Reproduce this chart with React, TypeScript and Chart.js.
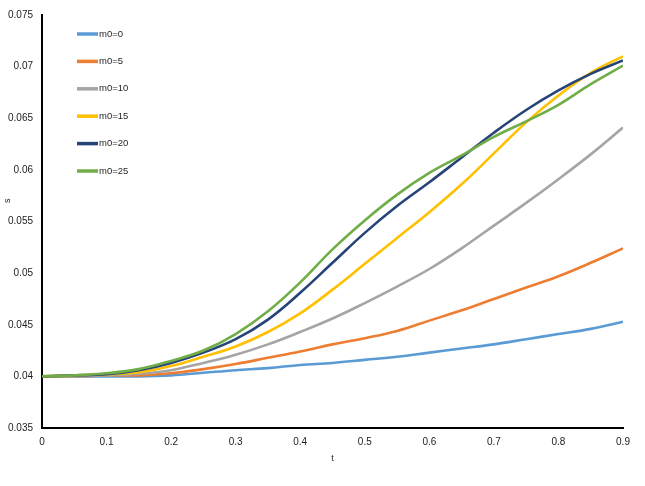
import { useEffect, useRef } from "react"
import { Chart, registerables } from "chart.js"

Chart.register(...registerables)

// t values (x axis)
const tValues = [0, 0.05, 0.1, 0.15, 0.2, 0.25, 0.3, 0.35, 0.4, 0.45, 0.5, 0.55, 0.6, 0.65, 0.7, 0.75, 0.8, 0.85, 0.9]

// s values per m0
const m0_0 = [0.04, 0.04, 0.04, 0.04, 0.0401, 0.04035, 0.0406, 0.0408, 0.0411, 0.0413, 0.0416, 0.0419, 0.0423, 0.0427, 0.0431, 0.0436, 0.0441, 0.0446, 0.0453]
const m0_5 = [0.04, 0.04, 0.0401, 0.0401, 0.0403, 0.0407, 0.0412, 0.0418, 0.0424, 0.0431, 0.0437, 0.0444, 0.0454, 0.0464, 0.0475, 0.0486, 0.0497, 0.051, 0.0524]
const m0_10 = [0.04, 0.04, 0.0401, 0.04025, 0.0406, 0.0413, 0.0421, 0.0431, 0.0443, 0.0456, 0.0471, 0.0487, 0.0504, 0.0524, 0.0546, 0.0568, 0.0591, 0.0615, 0.0641]
const m0_15 = [0.04, 0.0401, 0.0402, 0.0404, 0.041, 0.0419, 0.0429, 0.0443, 0.0461, 0.0484, 0.0509, 0.0534, 0.0559, 0.0586, 0.0616, 0.0646, 0.0672, 0.0694, 0.071]
const m0_20 = [0.04, 0.0401, 0.0402, 0.0406, 0.0413, 0.0423, 0.0436, 0.0455, 0.0481, 0.051, 0.0539, 0.0565, 0.0588, 0.0612, 0.0636, 0.0658, 0.0677, 0.0693, 0.0706]
const m0_25 = [0.04, 0.0401, 0.0403, 0.0407, 0.0415, 0.0425, 0.0441, 0.0463, 0.0491, 0.0523, 0.0551, 0.0576, 0.0597, 0.0614, 0.0632, 0.0647, 0.0663, 0.0683, 0.0701]

const seriesLabels = ["m0=0", "m0=5", "m0=10", "m0=15", "m0=20", "m0=25"]
const seriesValues = [m0_0, m0_5, m0_10, m0_15, m0_20, m0_25]
const seriesColors = ["#5B9BD5", "#ED7D31", "#A5A5A5", "#FFC000", "#264478", "#70AD47"]

const yTitle = "s"

const FONT = "'Liberation Sans', Arial, sans-serif"

// legend drawn inside the plot area, one entry per row, plus the y title
const innerLegend = {
  id: "innerLegend",
  afterDraw(chart: Chart) {
    const { ctx, chartArea } = chart
    ctx.save()
    ctx.font = `9.5px ${FONT}`
    ctx.textBaseline = "middle"
    chart.data.datasets.forEach((ds: any, i: number) => {
      const y = chartArea.top + 19 + i * 27.4
      const x0 = chartArea.left + 35
      ctx.strokeStyle = ds.borderColor
      ctx.lineWidth = 3.5
      ctx.beginPath()
      ctx.moveTo(x0, y)
      ctx.lineTo(x0 + 21, y)
      ctx.stroke()
      ctx.fillStyle = "#262626"
      ctx.fillText(ds.label, x0 + 22, y)
    })
    // y axis title, rotated, a bit above the middle as in the source
    ctx.translate(8, chartArea.top + (chartArea.bottom - chartArea.top) * 0.45)
    ctx.rotate(-Math.PI / 2)
    ctx.textAlign = "center"
    ctx.font = `9px ${FONT}`
    ctx.fillStyle = "#222"
    ctx.fillText(yTitle, 0, 0)
    ctx.restore()
  },
}

function fmt(v: number) {
  return String(parseFloat(v.toFixed(3)))
}

export default function App() {
  const canvasRef = useRef<HTMLCanvasElement>(null)
  const chartRef = useRef<Chart | null>(null)

  useEffect(() => {
    if (!canvasRef.current) return
    if (chartRef.current) chartRef.current.destroy()

    const datasets = seriesValues.map((vals, i) => ({
      label: seriesLabels[i],
      data: vals.map((v, j) => ({ x: tValues[j], y: v })),
      borderColor: seriesColors[i],
      backgroundColor: seriesColors[i],
      borderWidth: 2.6,
      pointRadius: 0,
      fill: false,
      tension: 0.4,
      order: seriesValues.length - i,
    }))

    chartRef.current = new Chart(canvasRef.current, {
      type: "line",
      data: { datasets },
      options: {
        responsive: true,
        maintainAspectRatio: false,
        animation: false,
        layout: { padding: { top: 7, right: 22, bottom: 0, left: 0 } },
        plugins: {
          legend: { display: false },
          tooltip: { enabled: false },
        },
        scales: {
          x: {
            type: "linear",
            min: 0,
            max: 0.9,
            grid: { display: false, drawTicks: false },
            border: { display: true, color: "#000", width: 2 },
            ticks: {
              stepSize: 0.1,
              padding: 8,
              color: "#222",
              font: { family: FONT, size: 10 },
              maxRotation: 0,
              callback: (v: any) => fmt(Number(v)),
            },
            title: {
              display: true,
              text: "t",
              color: "#222",
              font: { family: FONT, size: 9 },
              padding: { top: 0, bottom: 22 },
            },
            afterFit: (scale: any) => {
              scale.height = 58
            },
          },
          y: {
            min: 0.035,
            max: 0.075,
            grid: { display: false, drawTicks: false },
            border: { display: true, color: "#000", width: 2 },
            ticks: {
              stepSize: 0.005,
              padding: 9,
              color: "#222",
              font: { family: FONT, size: 10 },
              callback: (v: any) => fmt(Number(v)),
            },
            afterFit: (scale: any) => {
              scale.width = 42
            },
          },
        },
      },
      plugins: [innerLegend],
    })

    return () => {
      if (chartRef.current) {
        chartRef.current.destroy()
        chartRef.current = null
      }
    }
  }, [])

  return (
    <div style={{ position: "fixed", left: 0, top: 0, width: "645px", height: "486px", background: "#fff" }}>
      <canvas ref={canvasRef} />
    </div>
  )
}
